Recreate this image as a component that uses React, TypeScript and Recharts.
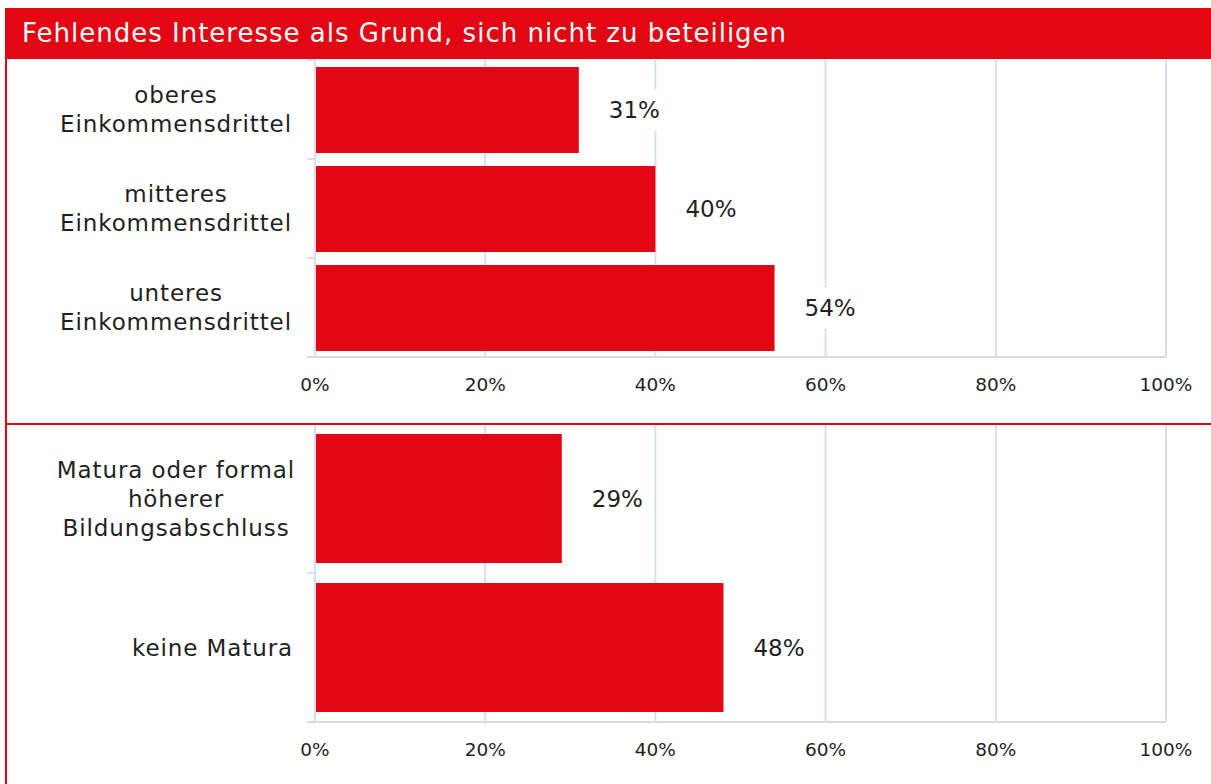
import { BarChart, Bar, XAxis, YAxis, CartesianGrid, LabelList } from "recharts";

const TITLE = "Fehlendes Interesse als Grund, sich nicht zu beteiligen";

const incomeLabels = ["oberes\nEinkommensdrittel", "mitteres\nEinkommensdrittel", "unteres\nEinkommensdrittel"];
const incomeValues = [31, 40, 54];

const educationLabels = ["Matura oder formal\nhöherer\nBildungsabschluss", "keine Matura"];
const educationValues = [29, 48];

const xTicks = [0, 20, 40, 60, 80, 100];

const RED = "#E30613";
const GRID = "#d8ddf2";
const AXIS = "#d9d9de";
const TEXT = "#1f1f1f";
const FONT = "'DejaVu Sans', sans-serif";

const incomeData = incomeLabels.map((label, i) => ({ label, value: incomeValues[i] }));
const educationData = educationLabels.map((label, i) => ({ label, value: educationValues[i] }));

// category label, plus Excel-style tick marks on the band boundaries
function makeCategoryTick(band: number, count: number) {
  // eslint-disable-next-line @typescript-eslint/no-explicit-any
  return function CategoryTick(props: any) {
    const { x, y, payload, index } = props;
    const lines: string[] = String(payload.value).split("\n");
    const lh = 29;
    const top = y - ((lines.length - 1) * lh) / 2;
    const single = lines.length === 1;
    const axisX = x + 8;
    return (
      <g>
        <line x1={axisX - 8} x2={axisX} y1={y - band / 2} y2={y - band / 2} stroke={GRID} strokeWidth={2} />
        {index === count - 1 && (
          <line x1={axisX - 8} x2={axisX} y1={y + band / 2} y2={y + band / 2} stroke={AXIS} strokeWidth={2} />
        )}
        {lines.map((ln, i) => (
          <text
            key={i}
            x={single ? 293 : 176}
            y={top + i * lh}
            textAnchor={single ? "end" : "middle"}
            dominantBaseline="central"
            fontSize={23}
            letterSpacing={0.9}
            fill={TEXT}
            fontFamily={FONT}
          >
            {ln}
          </text>
        ))}
      </g>
    );
  };
}

// eslint-disable-next-line @typescript-eslint/no-explicit-any
function ValueLabel(props: any) {
  const { x, y, width, height, value } = props;
  const tx = x + width + 30;
  const cy = y + height / 2;
  return (
    <g>
      <rect x={tx - 3} y={cy - 21} width={62} height={42} fill="#ffffff" />
      <text x={tx} y={cy} dominantBaseline="central" fontSize={23} fill={TEXT} fontFamily={FONT}>
        {`${value}%`}
      </text>
    </g>
  );
}

function Panel({
  data,
  height,
  barSize,
  labelsLen,
  axisHeight,
}: {
  data: { label: string; value: number }[];
  height: number;
  barSize: number;
  labelsLen: number;
  axisHeight: number;
}) {
  const plotH = height - axisHeight - (labelsLen === 3 ? 60 : 0);
  const band = plotH / labelsLen;
  return (
    <BarChart
      width={1211}
      height={height}
      data={data}
      layout="vertical"
      margin={{ top: labelsLen === 3 ? 60 : 0, right: 45, left: 0, bottom: 0 }}
    >
      <CartesianGrid horizontal={false} stroke={GRID} strokeWidth={2} />
      <XAxis
        type="number"
        domain={[0, 100]}
        ticks={xTicks}
        interval={0}
        height={axisHeight}
        axisLine={{ stroke: AXIS, strokeWidth: 2 }}
        tickLine={false}
        tickMargin={15}
        tickFormatter={(v: number) => `${v}%`}
        tick={{ fontSize: 18.5, fill: TEXT, fontFamily: FONT }}
      />
      <YAxis
        type="category"
        dataKey="label"
        width={315}
        axisLine={{ stroke: GRID, strokeWidth: 2 }}
        tickLine={false}
        interval={0}
        tick={makeCategoryTick(band, labelsLen)}
      />
      <Bar dataKey="value" fill={RED} barSize={barSize} isAnimationActive={false}>
        <LabelList dataKey="value" content={ValueLabel} />
      </Bar>
    </BarChart>
  );
}

export default function App() {
  return (
    <div style={{ position: "absolute", left: 0, top: 0, width: 1211, height: 784, background: "#fff", fontFamily: FONT }}>
      <div style={{ position: "absolute", left: 0, top: 0 }}>
        <Panel data={incomeData} height={402} barSize={86} labelsLen={3} axisHeight={45} />
      </div>
      <div style={{ position: "absolute", left: 0, top: 424 }}>
        <Panel data={educationData} height={348} barSize={129} labelsLen={2} axisHeight={50} />
      </div>
      <div
        style={{
          position: "absolute",
          left: 5,
          top: 8,
          width: 1206,
          height: 51,
          background: RED,
          color: "#fff",
          fontSize: 26,
          letterSpacing: 1,
          lineHeight: "51px",
          paddingLeft: 17,
          boxSizing: "border-box",
          whiteSpace: "nowrap",
        }}
      >
        {TITLE}
      </div>
      <div style={{ position: "absolute", left: 5, top: 59, width: 2, height: 725, background: RED }} />
      <div style={{ position: "absolute", left: 5, top: 422.5, width: 1206, height: 2, background: RED }} />
    </div>
  );
}
